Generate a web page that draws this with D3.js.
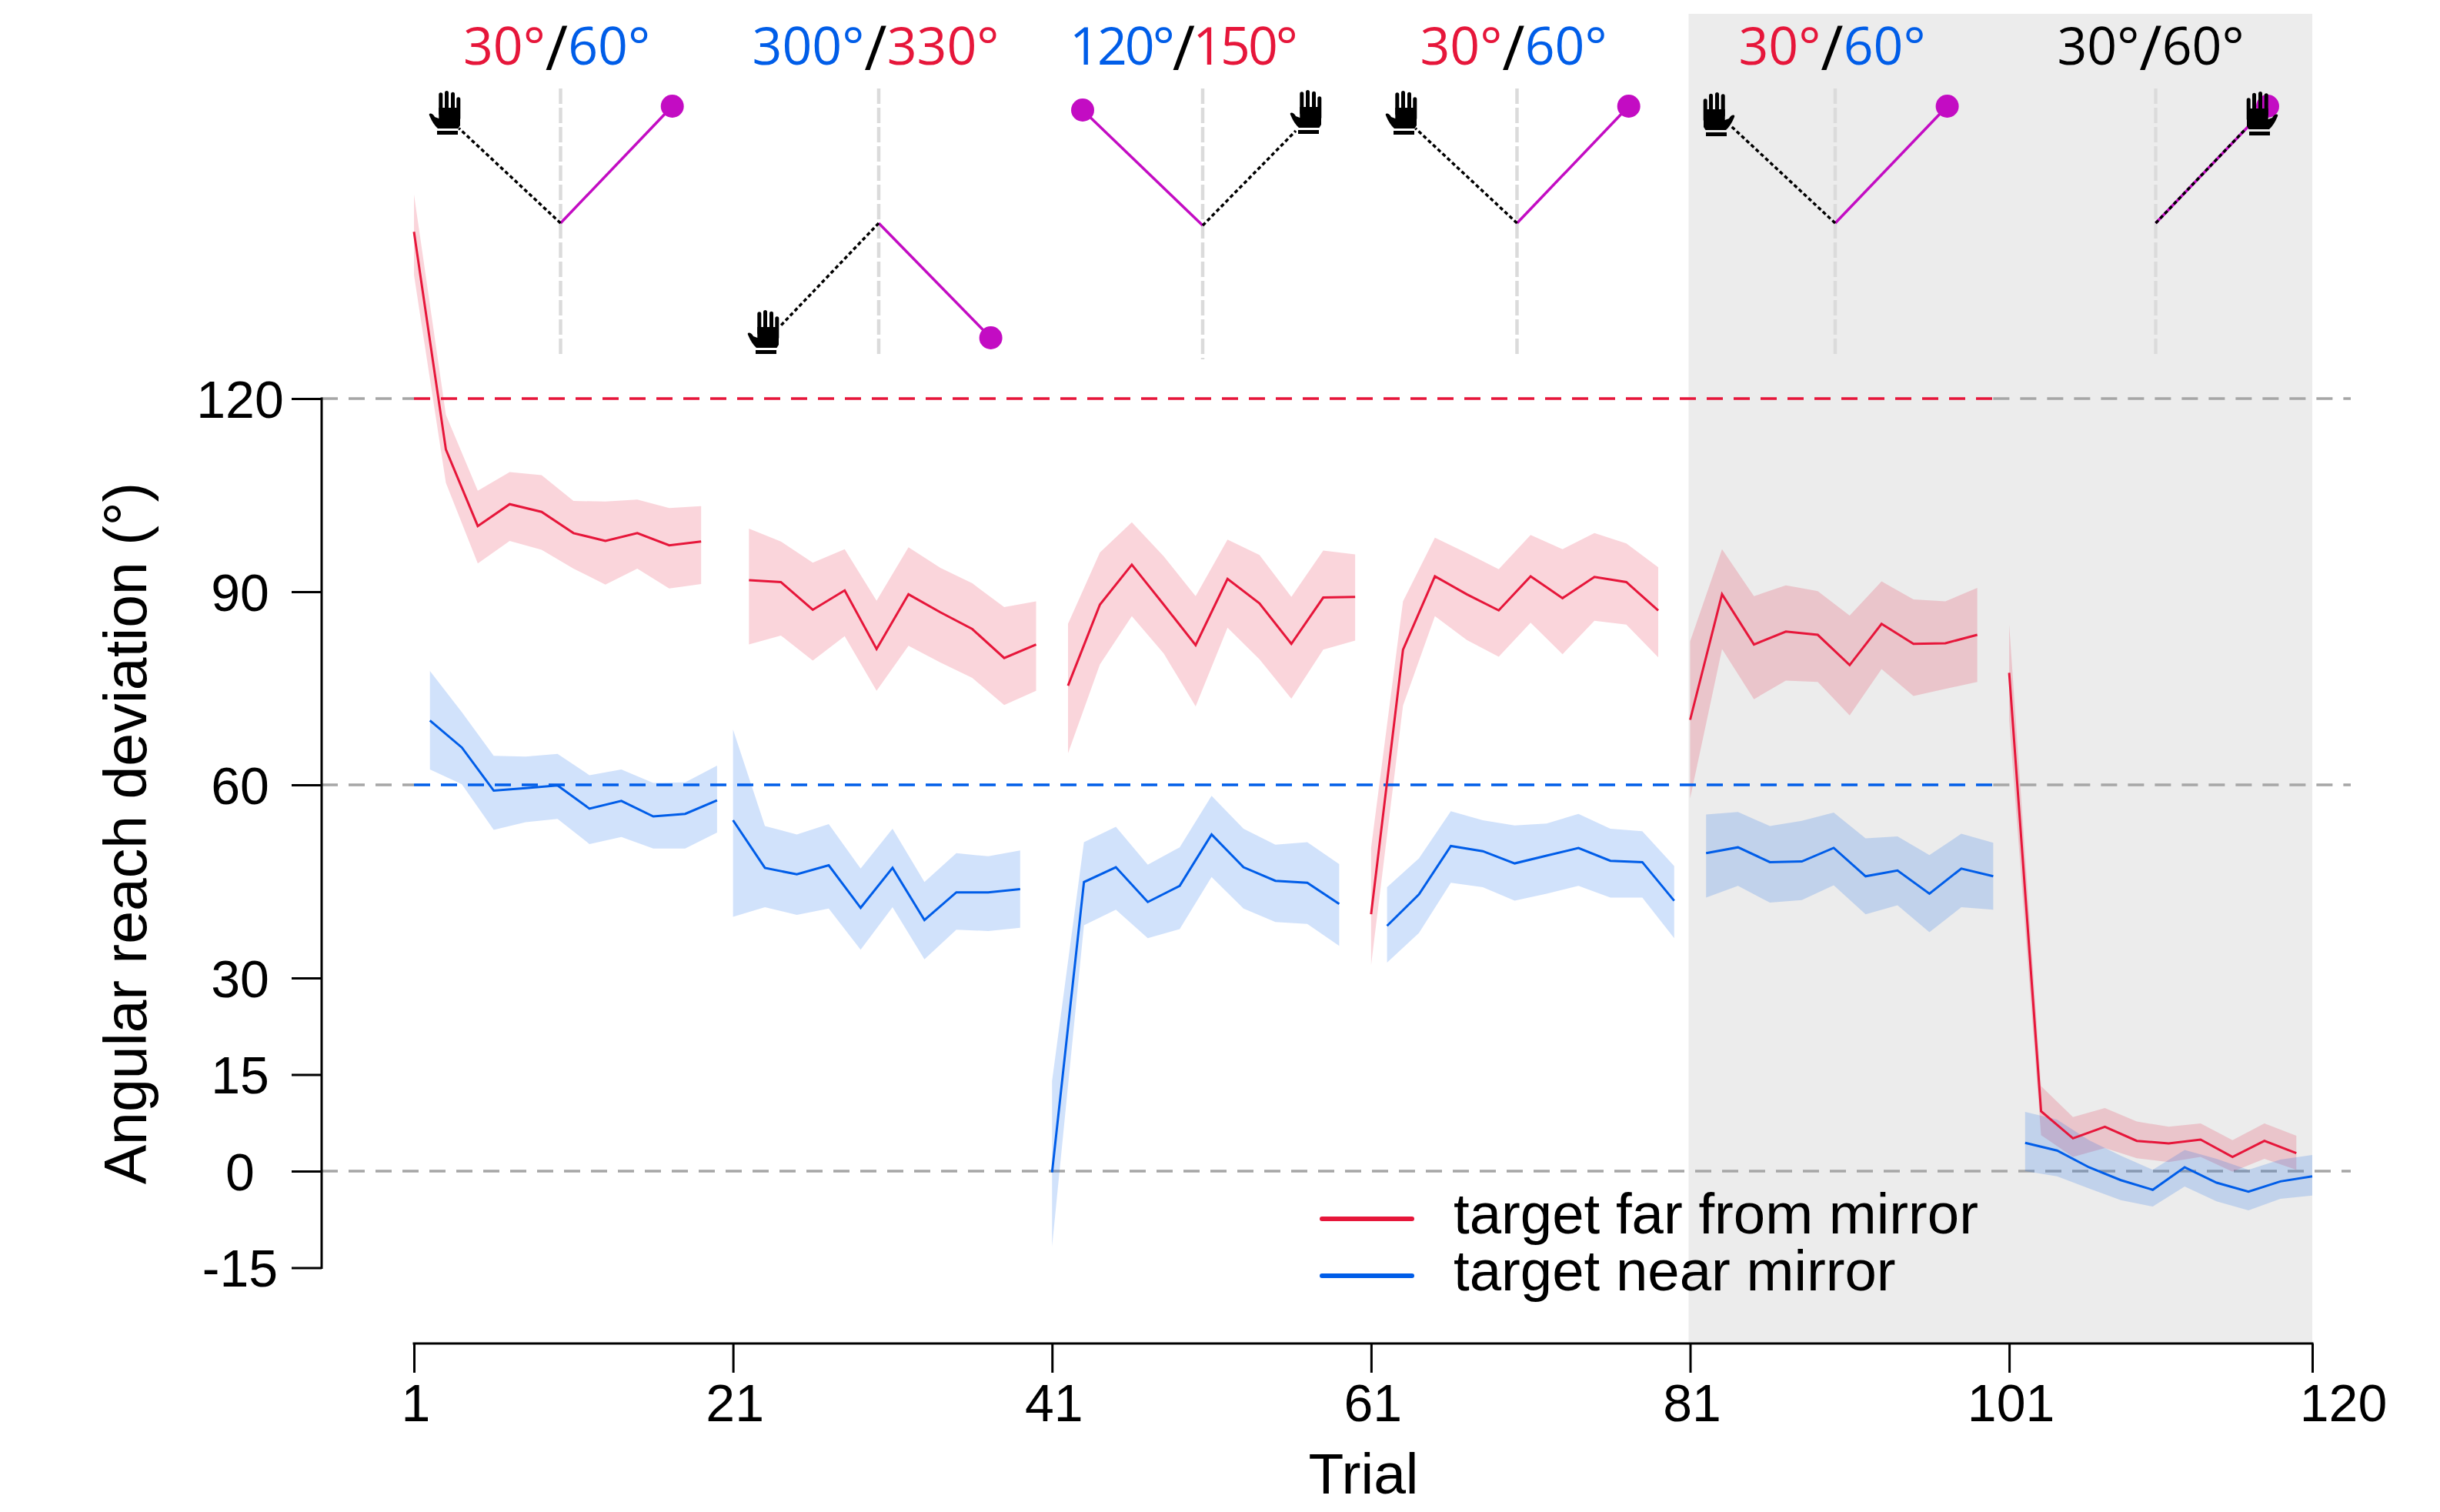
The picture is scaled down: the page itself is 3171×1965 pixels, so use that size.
<!DOCTYPE html>
<html>
<head>
<meta charset="utf-8">
<script src="https://cdn.jsdelivr.net/npm/d3@7"></script>
<style>
  html, body { margin: 0; padding: 0; background: #fff; }
  svg { display: block; }
  text { font-family: "Liberation Sans", Arial, sans-serif; fill: #000; }
  text.title { font-family: "Open Sans", sans-serif; }
</style>
</head>
<body>
<script>
// first trial of each block, one value every two trials
var farStart = [1, 22, 42, 61, 81, 101];
var nearStart = [2, 21, 41, 62, 82, 102];

var farMean = [
  145.9, 112.1, 100.2, 103.6, 102.4, 99.1, 97.9, 99.1, 97.2, 97.8,
  91.8, 91.5, 87.2, 90.2, 81.1, 89.6, 86.8, 84.2, 79.7, 81.8,
  75.4, 88, 94.2, 88, 81.7, 92, 88.2, 81.9, 89.1, 89.2,
  39.9, 81, 92.4, 89.6, 87.1, 92.4, 89, 92.3, 91.5, 87.1,
  70.1, 89.6, 81.8, 83.8, 83.3, 78.6, 85, 81.9, 82, 83.3,
  77.4, 9.3, 5.1, 6.9, 4.7, 4.3, 4.9, 2.2, 4.7, 2.8
];
var farUpper = [
  151.7, 117.5, 105.7, 108.6, 108.1, 104.1, 104, 104.3, 103, 103.3,
  99.8, 97.8, 94.5, 96.6, 88.6, 96.9, 93.7, 91.3, 87.6, 88.5,
  85, 96.1, 100.8, 95.5, 89.3, 98.1, 95.7, 89.2, 96.4, 95.8,
  50.2, 88.5, 98.4, 96, 93.5, 98.8, 96.6, 99.1, 97.5, 93.8,
  82.3, 96.6, 89.3, 91, 90.1, 86.3, 91.6, 88.8, 88.5, 90.6,
  84.9, 13.2, 8.4, 9.8, 7.7, 6.9, 7.4, 4.8, 7.4, 5.5
];
var farLower = [
  139.2, 106.9, 94.4, 97.9, 96.5, 93.6, 91.1, 93.6, 90.5, 91.2,
  81.8, 83.2, 79.3, 83.1, 74.6, 81.6, 79, 76.6, 72.4, 74.6,
  64.9, 78.7, 86.2, 80.4, 72.2, 84.4, 79.5, 73.4, 81, 82.4,
  32, 72.3, 86.2, 82.5, 79.9, 85.2, 80.3, 85.5, 84.9, 79.8,
  57.9, 81.1, 73.3, 76.2, 76, 70.8, 78, 73.8, 74.9, 76,
  70, 5.6, 2.2, 3.6, 2, 1.4, 2.2, -0.1, 1.9, 0.2
];

var nearMean = [
  70, 65.8, 59.1, 59.5, 59.9, 56.3, 57.5, 55.1, 55.5, 57.6,
  54.5, 47.1, 46.1, 47.5, 40.9, 47.1, 39, 43.3, 43.3, 43.8,
  -0.2, 44.9, 47.2, 41.8, 44.3, 52.3, 47.2, 45.1, 44.8, 41.5,
  38.1, 43, 50.5, 49.7, 47.8, 49, 50.2, 48.2, 48, 42,
  49.4, 50.3, 48, 48.1, 50.2, 45.8, 46.7, 43.1, 47, 45.8,
  4.4, 3.2, 0.6, -1.4, -2.9, 0.6, -1.8, -3.2, -1.6, -0.8
];
var nearUpper = [
  77.7, 71.3, 64.5, 64.4, 64.8, 61.5, 62.4, 60.3, 60.4, 63,
  68.6, 53.6, 52.3, 53.9, 47, 53.2, 44.9, 49.4, 48.9, 49.8,
  14, 51.1, 53.5, 47.6, 50.3, 58.3, 53.2, 50.7, 51.1, 47.7,
  44.1, 48.6, 55.9, 54.5, 53.7, 54, 55.5, 53.2, 52.8, 47.4,
  55.4, 55.8, 53.6, 54.4, 55.7, 51.7, 52, 49.1, 52.4, 51,
  9.2, 8, 4.8, 2.4, 0.2, 3.3, 1.9, 0.2, 1.8, 2.5
];
var nearLower = [
  62.4, 60.1, 53, 54.2, 54.7, 50.8, 51.9, 50.1, 50.1, 52.6,
  39.5, 41, 39.8, 40.8, 34.4, 41, 32.9, 37.5, 37.3, 37.8,
  -11.7, 38.2, 40.6, 36.2, 37.6, 45.7, 40.8, 38.7, 38.4, 35,
  32.4, 37, 44.8, 44.1, 42, 43.1, 44.3, 42.5, 42.5, 36.2,
  42.5, 44.3, 41.7, 42.1, 44.4, 39.9, 41.3, 37.1, 41, 40.6,
  0, -0.8, -2.7, -4.5, -5.5, -2.4, -4.7, -6.1, -4.3, -3.8
];

var xTicks = [1, 21, 41, 61, 81, 101, 120];
var yTicks = [-15, 0, 15, 30, 60, 90, 120];
var legendLabels = ["target far from mirror", "target near mirror"];

// header text of each block, [text, colour key]
var blockTitles = [
  [["30°", "far"], ["/", "ink"], ["60°", "near"]],
  [["300°", "near"], ["/", "ink"], ["330°", "far"]],
  [["120°", "near"], ["/", "ink"], ["150°", "far"]],
  [["30°", "far"], ["/", "ink"], ["60°", "near"]],
  [["30°", "far"], ["/", "ink"], ["60°", "near"]],
  [["30°", "ink"], ["/", "ink"], ["60°", "ink"]]
];

var colors = { far: "#e6163a", near: "#005de8", ink: "#000" };
var purple = "#c30cc3";

var totalWidth = 3171;
var totalHeight = 1965;

var scaleX = d3.scaleLinear().domain([1, 120]).range([538, 3005]);
var scaleY = d3.scaleLinear().domain([0, 120]).range([1522, 518]);

var svg = d3.select("body").append("svg")
  .attr("width", totalWidth)
  .attr("height", totalHeight);

// rows of one series, split into its six blocks
function makeBlocks(starts, mean, upper, lower) {
  return starts.map(function(start, b) {
    return d3.range(10).map(function(i) {
      var k = b * 10 + i;
      return { x: start + i * 2, mean: mean[k], upper: upper[k], lower: lower[k] };
    });
  });
}

var farBlocks = makeBlocks(farStart, farMean, farUpper, farLower);
var nearBlocks = makeBlocks(nearStart, nearMean, nearUpper, nearLower);

// washout phase shading
svg.append("rect")
  .attr("x", scaleX(81) - 2)
  .attr("y", 18)
  .attr("width", scaleX(120) - scaleX(81) + 2)
  .attr("height", 1746 - 18)
  .attr("fill", "#ececec");

function refLine(value, x1, x2, color) {
  svg.append("line")
    .attr("x1", x1)
    .attr("x2", x2)
    .attr("y1", scaleY(value))
    .attr("y2", scaleY(value))
    .attr("stroke", color)
    .attr("stroke-width", 3.5)
    .attr("stroke-dasharray", "21 14");
}

// grey reference lines, the coloured ones take over the middle part
var refEnd = 3055;
refLine(0, 418, refEnd, "#a6a6a6");
[120, 60].forEach(function(v) {
  refLine(v, 418, scaleX(1), "#a6a6a6");
  refLine(v, scaleX(100), refEnd, "#a6a6a6");
});

var area = d3.area()
  .x(function(d) { return scaleX(d.x); })
  .y0(function(d) { return scaleY(d.lower); })
  .y1(function(d) { return scaleY(d.upper); });

var line = d3.line()
  .x(function(d) { return scaleX(d.x); })
  .y(function(d) { return scaleY(d.mean); });

function drawBands(blocks, color) {
  svg.append("g").selectAll("path")
    .data(blocks)
    .enter().append("path")
    .attr("d", area)
    .attr("fill", color)
    .attr("fill-opacity", 0.18);
}

function drawLines(blocks, color) {
  svg.append("g").selectAll("path")
    .data(blocks)
    .enter().append("path")
    .attr("d", line)
    .attr("fill", "none")
    .attr("stroke", color)
    .attr("stroke-width", 3);
}

drawBands(farBlocks, colors.far);
drawBands(nearBlocks, colors.near);

refLine(120, scaleX(1), scaleX(100), colors.far);
refLine(60, scaleX(1), scaleX(100), colors.near);

drawLines(farBlocks, colors.far);
drawLines(nearBlocks, colors.near);

// axes
var yAxis = svg.append("g")
  .attr("transform", "translate(418,0)")
  .call(d3.axisLeft(scaleY).tickValues(yTicks).tickSize(39).tickSizeOuter(0)
    .tickFormat(function(d) { return String(d); }));
yAxis.select(".domain").remove();
yAxis.append("line")
  .attr("y1", scaleY(120) - 1.5)
  .attr("y2", scaleY(-15) + 1.5)
  .attr("stroke", "#000")
  .attr("stroke-width", 3);
yAxis.selectAll(".tick line").attr("stroke-width", 3);
yAxis.selectAll(".tick text")
  .attr("x", -106)
  .attr("dy", "0.36em")
  .style("text-anchor", "middle")
  .style("font-size", "68px")
  .style("font-family", '"Liberation Sans", Arial, sans-serif')
  .attr("fill", "#000");

var xAxis = svg.append("g")
  .attr("transform", "translate(0,1746)")
  .call(d3.axisBottom(scaleX).tickValues(xTicks).tickSize(38).tickSizeOuter(0)
    .tickFormat(d3.format("d")));
xAxis.select(".domain").remove();
xAxis.append("line")
  .attr("x1", scaleX(1) - 1.5)
  .attr("x2", scaleX(120) + 1.5)
  .attr("stroke", "#000")
  .attr("stroke-width", 3);
xAxis.selectAll(".tick line").attr("stroke-width", 3);
xAxis.selectAll(".tick text")
  .attr("x", function(d) { return d === 120 ? 40 : 2; })
  .attr("y", 101)
  .attr("dy", 0)
  .style("font-size", "68px")
  .style("font-family", '"Liberation Sans", Arial, sans-serif')
  .attr("fill", "#000");

svg.append("text")
  .attr("x", 1772)
  .attr("y", 1941)
  .style("text-anchor", "middle")
  .style("font-size", "75px")
  .text("Trial");

svg.append("text")
  .attr("transform", "translate(190,1083) rotate(-90)")
  .style("text-anchor", "middle")
  .style("font-size", "77px")
  .text("Angular reach deviation (°)");

// legend
var legendColors = [colors.far, colors.near];
var legendRow = svg.selectAll(".legend")
  .data(legendLabels)
  .enter().append("g")
  .attr("transform", function(d, i) { return "translate(0," + (1584 + i * 74) + ")"; });
legendRow.append("line")
  .attr("x1", 1718)
  .attr("x2", 1835)
  .attr("stroke", function(d, i) { return legendColors[i]; })
  .attr("stroke-width", 6)
  .attr("stroke-linecap", "round");
legendRow.append("text")
  .attr("x", 1889)
  .attr("y", 19)
  .style("font-size", "74.4px")
  .text(function(d) { return d; });

// block titles, the slash is set a bit taller than the digits
var titleCenters = [723.5, 1138, 1537, 1967, 2381, 2795];
var titleSpacing = [0, 0, -3, 0, 0, 0];
blockTitles.forEach(function(parts, b) {
  var t = svg.append("text")
    .attr("class", "title")
    .attr("x", titleCenters[b])
    .attr("y", 84)
    .style("text-anchor", "middle")
    .style("font-size", "68px")
    .style("letter-spacing", titleSpacing[b] + "px");
  parts.forEach(function(p) {
    var isSlash = p[0] === "/";
    t.append("tspan")
      .attr("dy", isSlash ? 7 : (p === parts[2] ? -7 : 0))
      .style("font-size", isSlash ? "80px" : "68px")
      .style("fill", colors[p[1]])
      .text(p[0]);
  });
});

// little hand icon, 41 wide and 57 tall, thumb on the left
function drawHand(g, x, y, flip) {
  var h = g.append("g")
    .attr("transform", flip
      ? "translate(" + (x + 41) + "," + y + ") scale(-1,1)"
      : "translate(" + x + "," + y + ")");
  [[13.3, 2.3], [21, 0], [29, 1.7], [36.3, 8.3]].forEach(function(f) {
    h.append("rect")
      .attr("x", f[0])
      .attr("y", f[1])
      .attr("width", 5)
      .attr("height", 30)
      .attr("rx", 2.5)
      .attr("fill", "#000");
  });
  h.append("path")
    .attr("d", "M1,32 Q0,29 3,29.5 Q6,30 8,34 L13.3,36 L13.3,22 L41,22 L41,45 L38.5,49 L12,49 Q6,44 1,32 Z")
    .attr("fill", "#000");
  h.append("rect")
    .attr("x", 11)
    .attr("y", 52)
    .attr("width", 27)
    .attr("height", 5)
    .attr("fill", "#000");
}

// reach diagrams above each block
var diagrams = [
  { cx: 728.5, cy: 290, bottom: 463, target: [873.7, 138], handEnd: [596.4, 166.7], hand: [557, 118], flip: false },
  { cx: 1142, cy: 290, bottom: 463, target: [1287.6, 439], handEnd: [1013.8, 424], hand: [971, 403], flip: false },
  { cx: 1563, cy: 293, bottom: 467, target: [1407, 143], handEnd: [1684, 170], hand: [1676, 117], flip: false },
  { cx: 1971.5, cy: 290, bottom: 463, target: [2116.7, 138], handEnd: [1839.4, 166.7], hand: [1800, 118], flip: false },
  { cx: 2385, cy: 290, bottom: 463, target: [2530.6, 138], handEnd: [2248.7, 163], hand: [2214, 120], flip: true },
  { cx: 2801.5, cy: 290, bottom: 463, target: [2947, 138], handEnd: [2919, 167], hand: [2920, 119], flip: true }
];

diagrams.forEach(function(d) {
  var g = svg.append("g");
  g.append("line")
    .attr("x1", d.cx).attr("x2", d.cx)
    .attr("y1", 115).attr("y2", d.bottom)
    .attr("stroke", "#dbdbdb")
    .attr("stroke-width", 4.5)
    .attr("stroke-dasharray", "20 5");
  g.append("line")
    .attr("x1", d.cx).attr("y1", d.cy)
    .attr("x2", d.target[0]).attr("y2", d.target[1])
    .attr("stroke", purple)
    .attr("stroke-width", 3.5);
  g.append("circle")
    .attr("cx", d.target[0])
    .attr("cy", d.target[1])
    .attr("r", 15)
    .attr("fill", purple);
  g.append("line")
    .attr("x1", d.cx).attr("y1", d.cy)
    .attr("x2", d.handEnd[0]).attr("y2", d.handEnd[1])
    .attr("stroke", "#000")
    .attr("stroke-width", 3.5)
    .attr("stroke-dasharray", "5 3.5");
  drawHand(g, d.hand[0], d.hand[1], d.flip);
});
</script>
</body>
</html>
